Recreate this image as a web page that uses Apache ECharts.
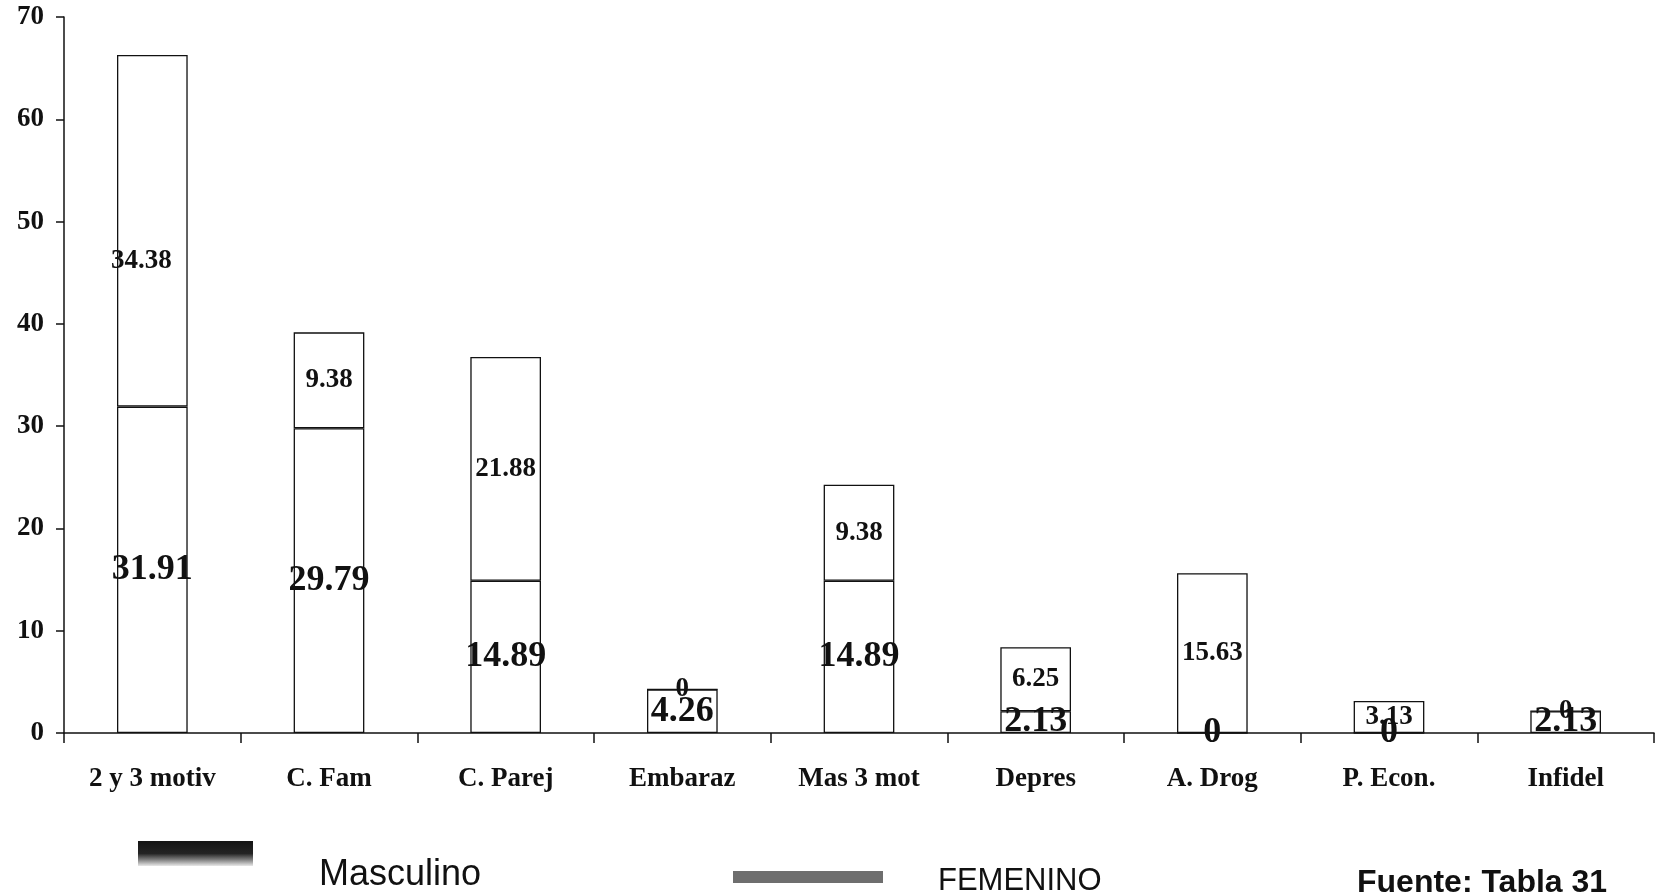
<!DOCTYPE html>
<html>
<head>
<meta charset="utf-8">
<title>Motivos por sexo</title>
<script src="https://cdn.jsdelivr.net/npm/echarts@6/dist/echarts.min.js"></script>
<style>
  html, body { margin: 0; padding: 0; background: #fff; }
  #chart { width: 1656px; height: 896px; }
</style>
</head>
<body>
<div id="chart"></div>
<script>
// Categories (motivos) and percentages per sex
const categories = ['2 y 3 motiv', 'C. Fam', 'C. Parej', 'Embaraz', 'Mas 3 mot', 'Depres', 'A. Drog', 'P. Econ.', 'Infidel'];
const masculino = [31.91, 29.79, 14.89, 4.26, 14.89, 2.13, 0, 0, 2.13];
const femenino  = [34.38, 9.38, 21.88, 0, 9.38, 6.25, 15.63, 3.13, 0];
const yTicks = [0, 10, 20, 30, 40, 50, 60, 70];
const seriesNames = ['Masculino', 'FEMENINO'];
const sourceNote = 'Fuente: Tabla 31';

const serif = "'Liberation Serif', 'Times New Roman', serif";
const sans = "'Liberation Sans', Arial, sans-serif";
const ink = '#111';

const chart = echarts.init(document.getElementById('chart'), null, { renderer: 'canvas' });

const barStyle = { color: '#fff', borderColor: ink, borderWidth: 1.3 };

// The tallest bar's upper label sits lower and a little left in its segment
const femeninoData = femenino.map((v, i) =>
  i === 0 ? { value: v, label: { offset: [-11, 30] } } : v
);

// Legend swatches; the names are set beside them as text elements
const noText = () => '';

chart.setOption({
  animation: false,
  backgroundColor: '#fff',
  grid: { left: 64, right: 2, top: 17, bottom: 163, containLabel: false },
  legend: [
    {
      left: 138, top: 841, padding: 0,
      itemWidth: 115, itemHeight: 25,
      icon: 'rect',
      selectedMode: false,
      formatter: noText,
      data: [{
        name: seriesNames[0],
        itemStyle: {
          borderWidth: 0,
          color: new echarts.graphic.LinearGradient(0, 0, 0, 1, [
            { offset: 0, color: '#141414' },
            { offset: 0.5, color: '#242424' },
            { offset: 0.75, color: '#808080' },
            { offset: 1, color: '#e8e8e8' }
          ])
        }
      }]
    },
    {
      left: 733, top: 871, padding: 0,
      itemWidth: 150, itemHeight: 12,
      icon: 'rect',
      selectedMode: false,
      formatter: noText,
      data: [{
        name: seriesNames[1],
        itemStyle: { borderWidth: 0, color: '#6e6e6e' }
      }]
    }
  ],
  graphic: [
    {
      type: 'text', left: 319, top: 857,
      style: { text: seriesNames[0], font: '36px ' + sans, fill: ink }
    },
    {
      type: 'text', left: 938, top: 866,
      style: { text: seriesNames[1], font: '31px ' + sans, fill: ink }
    },
    {
      type: 'text', left: 1357, top: 867,
      style: { text: sourceNote, font: 'bold 32px ' + sans, fill: ink }
    }
  ],
  xAxis: {
    type: 'category',
    data: categories,
    axisLine: { lineStyle: { color: ink, width: 1.5 } },
    axisTick: { show: true, length: 10, lineStyle: { color: ink, width: 1.5 } },
    axisLabel: { fontFamily: serif, fontSize: 27, fontWeight: 'bold', color: ink, margin: 33 },
    splitLine: { show: false }
  },
  yAxis: {
    type: 'value',
    min: yTicks[0],
    max: yTicks[yTicks.length - 1],
    interval: yTicks[1] - yTicks[0],
    axisLine: { show: true, lineStyle: { color: ink, width: 1.5 } },
    axisTick: { show: true, length: 8, lineStyle: { color: ink, width: 1.5 } },
    axisLabel: { fontFamily: serif, fontSize: 27, fontWeight: 'bold', color: ink, margin: 20 },
    splitLine: { show: false }
  },
  series: [
    {
      name: seriesNames[0],
      type: 'bar',
      stack: 'total',
      barWidth: '40%',
      data: masculino,
      itemStyle: barStyle,
      label: {
        show: true,
        position: 'inside',
        fontFamily: serif,
        fontSize: 36,
        fontWeight: 'bold',
        color: ink
      }
    },
    {
      name: seriesNames[1],
      type: 'bar',
      stack: 'total',
      barWidth: '40%',
      data: femeninoData,
      itemStyle: barStyle,
      label: {
        show: true,
        position: 'inside',
        fontFamily: serif,
        fontSize: 27,
        fontWeight: 'bold',
        color: ink
      }
    }
  ]
});
</script>
</body>
</html>
